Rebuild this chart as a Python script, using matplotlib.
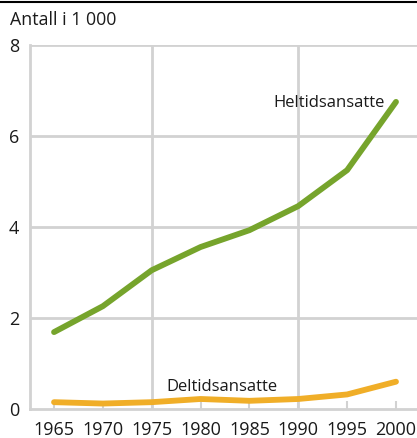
import matplotlib
matplotlib.use("Agg")
import matplotlib.pyplot as plt

years = [1965, 1970, 1975, 1980, 1985, 1990, 1995, 2000]
heltid = [1.69, 2.26, 3.05, 3.56, 3.93, 4.46, 5.25, 6.75]
deltid = [0.15, 0.12, 0.15, 0.22, 0.18, 0.22, 0.32, 0.60]
yticks = [0, 2, 4, 6, 8]
title = "Antall i 1 000"

plt.rcParams['font.family'] = ['Open Sans', 'DejaVu Sans']

fig = plt.figure(figsize=(4.17, 4.38), dpi=100)
ax = fig.add_axes([30/417, 1-409/438, 1-30/417, (409-45)/438])

grid_c = '#d2d2d2'
for y in yticks[1:]:
    ax.axhline(y, color=grid_c, lw=2, zorder=1)
for x in [1975, 1990]:
    ax.axvline(x, color=grid_c, lw=2, zorder=1)

ax.plot(years, heltid, color='#76a42c', lw=4.2, solid_capstyle='round', zorder=3)
ax.plot(years, deltid, color='#f0ae28', lw=4.2, solid_capstyle='round', zorder=3)

ax.set_xlim(1962.54, 2002.15)
ax.set_ylim(0, 8)
ax.set_yticks(yticks)
ax.set_xticks(years)
ax.tick_params(axis='x', direction='in', length=6, width=1.5, color=grid_c,
               labelsize=13, pad=8.5, labelcolor='#1a1a1a')
ax.tick_params(axis='y', length=0, labelsize=13, pad=8, labelcolor='#1a1a1a')

for s in ['top', 'right']:
    ax.spines[s].set_visible(False)
for s in ['left', 'bottom']:
    ax.spines[s].set_color(grid_c)
    ax.spines[s].set_linewidth(2)

ax.text(1993.1, 6.72, "Heltidsansatte", ha='center', va='center', fontsize=12, color='#1a1a1a', zorder=4)
ax.text(1982.2, 0.48, "Deltidsansatte", ha='center', va='center', fontsize=12, color='#1a1a1a', zorder=4)

fig.text(10/417, 1-20/438, title, ha='left', va='center', fontsize=12.8, color='#1a1a1a')
fig.add_artist(plt.Line2D([0, 1], [1-2/438, 1-2/438], color='black', lw=1.5, transform=fig.transFigure))

fig.savefig("out.png", dpi=100)
